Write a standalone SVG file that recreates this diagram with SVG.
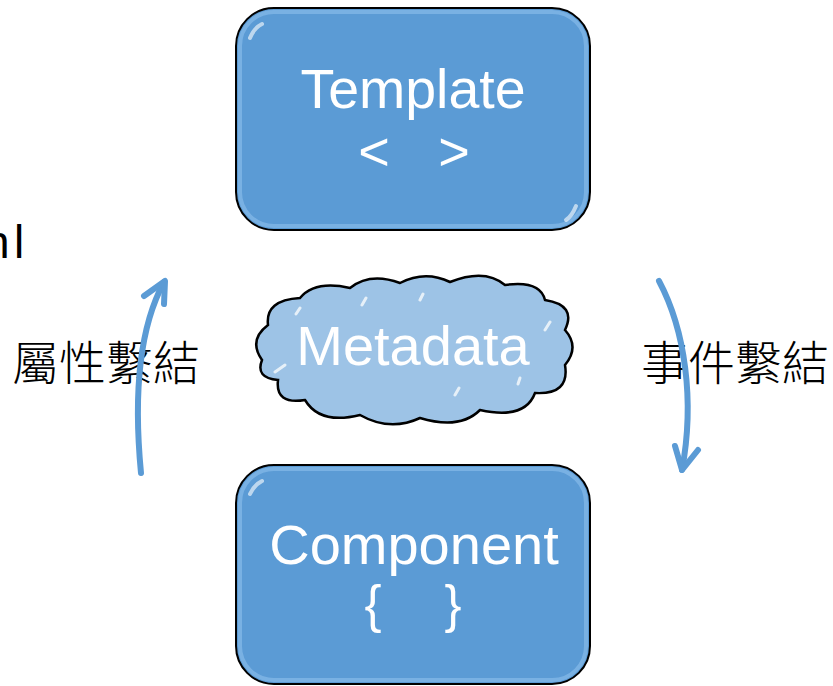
<svg xmlns="http://www.w3.org/2000/svg" width="833" height="686" viewBox="0 0 833 686">
<defs>
<style>
.box{fill:#5B9BD5;stroke:#000;stroke-width:2}
.inner{fill:none;stroke:#8EC0EC;stroke-width:4;opacity:0.6}
.hl{fill:none;stroke:url(#hlg);stroke-width:4;stroke-linecap:round}
.wt{fill:#fff;font-family:"Liberation Sans",Arial,sans-serif;text-anchor:middle}
.lbl{fill:#000;font-family:"Noto Sans CJK TC","Noto Sans CJK SC",sans-serif;font-size:47px;font-weight:300}
.arr{fill:none;stroke:#5B9BD5;stroke-width:6;stroke-linecap:round;stroke-linejoin:round}
.cloud{fill:#9DC3E6;stroke:#000;stroke-width:2.5}
.gl{stroke:#fff;stroke-width:3;stroke-linecap:round;opacity:0.75}
</style>
<linearGradient id="hlg" x1="0" y1="0" x2="0" y2="1">
<stop offset="0" stop-color="#fff" stop-opacity="0.2"/>
<stop offset="0.15" stop-color="#fff" stop-opacity="0.95"/>
<stop offset="0.85" stop-color="#fff" stop-opacity="0.95"/>
<stop offset="1" stop-color="#fff" stop-opacity="0.2"/>
</linearGradient>
</defs>

<text x="-16" y="258" style="font-family:'Liberation Sans',Arial,sans-serif;font-size:46px;fill:#000">n<tspan x="14">l</tspan></text>

<g id="template">
<rect class="box" x="236" y="8" width="354" height="222" rx="38"/>
<rect class="inner" x="240" y="12" width="346" height="214" rx="34"/>
<path class="hl" d="M248,40 L248,200"/>
<path class="hl" d="M580,45 L580,200"/>
<path class="hl" d="M250,38 Q254,28 262,24" style="stroke:#fff;opacity:0.6"/>
<path class="hl" d="M576,206 Q572,216 566,220" style="stroke:#fff;opacity:0.6"/>
<text class="wt" x="413" y="108" font-size="55.5">Template</text>
<text class="wt" x="374" y="170" font-size="54">&lt;</text>
<text class="wt" x="454" y="170" font-size="54">&gt;</text>
</g>

<g id="metadata">
<path class="cloud" d="M262,360 Q248,340 268,325 Q265,300 300,298 Q315,280 350,288 Q370,272 400,283 Q425,270 450,282 Q485,268 505,285 Q540,280 545,300 Q577,305 565,330 Q580,347 565,365 Q570,395 535,393 Q525,420 480,410 Q460,430 420,418 Q390,432 360,415 Q320,425 305,400 Q275,405 278,380 Q255,378 262,360 Z"/>
<line class="gl" x1="296" y1="314" x2="300" y2="308"/>
<line class="gl" x1="362" y1="305" x2="366" y2="298"/>
<line class="gl" x1="420" y1="300" x2="423" y2="294"/>
<line class="gl" x1="545" y1="330" x2="550" y2="322"/>
<line class="gl" x1="275" y1="372" x2="285" y2="365"/>
<line class="gl" x1="455" y1="395" x2="459" y2="388"/>
<line class="gl" x1="518" y1="384" x2="520" y2="378"/>
<text class="wt" x="413" y="365" font-size="56">Metadata</text>
</g>

<g id="component">
<rect class="box" x="236" y="465" width="354" height="219" rx="38"/>
<rect class="inner" x="240" y="469" width="346" height="211" rx="34"/>
<path class="hl" d="M248,495 L248,655"/>
<path class="hl" d="M580,500 L580,655"/>
<path class="hl" d="M250,494 Q254,485 262,481" style="stroke:#fff;opacity:0.6"/>
<text class="wt" x="414" y="564" font-size="56">Component</text>
<text class="wt" x="373" y="622" font-size="51">{</text>
<text class="wt" x="453" y="622" font-size="51">}</text>
</g>

<g id="label-left"><text class="lbl" x="12" y="380">屬性繫結</text></g>
<g id="label-right"><text class="lbl" x="641" y="380">事件繫結</text></g>

<g id="connectors">
<path class="arr" d="M141,473 C134,400 138,330 164,282"/>
<path class="arr" d="M144,296 L165,281 L164,304"/>
<path class="arr" d="M659,281 C685,330 695,400 682,470"/>
<path class="arr" d="M675,446 L682,470 L698,450"/>
</g>
</svg>
